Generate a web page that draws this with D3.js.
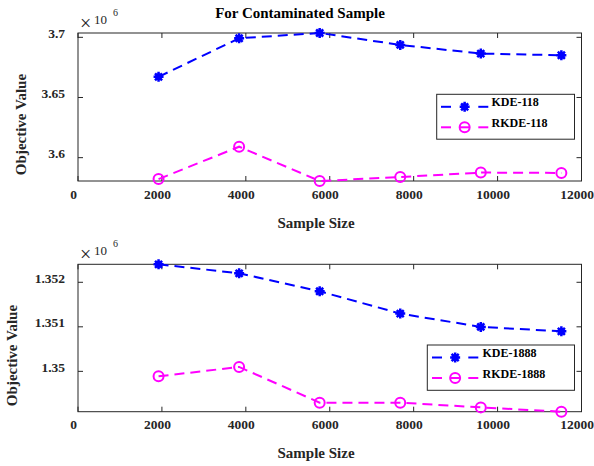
<!DOCTYPE html>
<html>
<head>
<meta charset="utf-8">
<script src="https://cdn.jsdelivr.net/npm/d3@7"></script>
<style>
  body { margin: 0; background: #fff; }
  text { font-family: "Liberation Serif", "Times New Roman", serif; }
</style>
</head>
<body>
<div id="vis"></div>
<script>
const width = 594;
const height = 466;

// sample sizes (x)
const sampleSize = [1920, 3840, 5760, 7680, 9600, 11520];
const xTicks = [0, 2000, 4000, 6000, 8000, 10000, 12000];

// objective values, in units of 10^6
const kde118 = [3.6672, 3.6992, 3.7036, 3.6937, 3.6865, 3.6851];
const rkde118 = [3.5822, 3.6091, 3.5806, 3.5839, 3.5876, 3.5873];
const yTicksTop = [3.6, 3.65, 3.7];

const kde1888 = [1.352404, 1.352202, 1.351798, 1.351297, 1.350998, 1.350899];
const rkde1888 = [1.349888, 1.350099, 1.349297, 1.349297, 1.349191, 1.349094];
const yTicksBottom = [1.35, 1.351, 1.352];

const blue = "#0000ff";
const magenta = "#ff00ff";
const axisColor = "#262626";

window.onload = function () {
  svg = d3.select("#vis").append("svg")
    .attr("width", width)
    .attr("height", height);

  svg.append("text")
    .attr("x", 300).attr("y", 17.5)
    .attr("text-anchor", "middle")
    .style("font-size", "15px").style("font-weight", "bold")
    .text("For Contaminated Sample");

  drawPanel({ top: 33, bottom: 181, ylabX: 20.5, ylabY: 124.5, xlabY: 227.5 },
    kde118, rkde118, yTicksTop,
    ["KDE-118", "RKDE-118"],
    { x0: 436.7, x1: 574.5, y0: 94.3, y1: 139.2, lx0: 441, lx1: 488.3, tx: 491.5 });

  drawPanel({ top: 264.3, bottom: 411.7, ylabX: 12, ylabY: 355.5, xlabY: 457.5 },
    kde1888, rkde1888, yTicksBottom,
    ["KDE-1888", "RKDE-1888"],
    { x0: 427.3, x1: 574.5, y0: 345, y1: 390.3, lx0: 432, lx1: 478.3, tx: 482.5 });
};

function starPath(r) {
  const d = r * Math.SQRT1_2;
  return "M" + (-r) + ",0L" + r + ",0M0," + (-r) + "L0," + r +
    "M" + (-d) + "," + (-d) + "L" + d + "," + d +
    "M" + (-d) + "," + d + "L" + d + "," + (-d);
}

function drawStar(g, x, y) {
  g.append("path")
    .attr("transform", "translate(" + x + "," + y + ")")
    .attr("d", starPath(5))
    .attr("stroke", blue).attr("stroke-width", 2.5).attr("fill", "none");
  g.append("circle")
    .attr("cx", x).attr("cy", y).attr("r", 3.5)
    .attr("fill", blue);
}

function drawCircle(g, x, y) {
  g.append("circle")
    .attr("cx", x).attr("cy", y).attr("r", 5)
    .attr("stroke", magenta).attr("stroke-width", 2).attr("fill", "none");
}

function drawPanel(p, kde, rkde, yTicks, names, leg) {
  const left = 78, right = 581.5;

  let x = d3.scaleLinear().domain([0, 12000]).range([left, right]);
  let y = d3.scaleLinear().domain(d3.extent(kde.concat(rkde))).range([p.bottom, p.top]);

  const g = svg.append("g");

  // box
  g.append("rect")
    .attr("x", left).attr("y", p.top)
    .attr("width", right - left).attr("height", p.bottom - p.top)
    .attr("fill", "none").attr("stroke", axisColor).attr("stroke-width", 1);

  // ticks, inward on all four sides
  xTicks.forEach(function (t) {
    g.append("line").attr("x1", x(t)).attr("x2", x(t))
      .attr("y1", p.bottom).attr("y2", p.bottom - 5).attr("stroke", axisColor);
    g.append("line").attr("x1", x(t)).attr("x2", x(t))
      .attr("y1", p.top).attr("y2", p.top + 5).attr("stroke", axisColor);
    // labels sit a little left of their ticks, as in the original
    g.append("text")
      .attr("x", x(t) - 4.5).attr("y", p.bottom + 17.5)
      .attr("text-anchor", "middle")
      .style("font-size", "13.5px").style("font-weight", "bold").attr("fill", axisColor)
      .text(t);
  });

  yTicks.forEach(function (t) {
    g.append("line").attr("x1", left).attr("x2", left + 5)
      .attr("y1", y(t)).attr("y2", y(t)).attr("stroke", axisColor);
    g.append("line").attr("x1", right).attr("x2", right - 5)
      .attr("y1", y(t)).attr("y2", y(t)).attr("stroke", axisColor);
    g.append("text")
      .attr("x", left - 13).attr("y", y(t))
      .attr("dy", "0.05em")
      .attr("text-anchor", "end")
      .style("font-size", "13.5px").style("font-weight", "bold").attr("fill", axisColor)
      .text(d3.format("~g")(t));
  });

  // exponent label
  g.append("text")
    .attr("x", 80).attr("y", p.top - 3)
    .style("font-size", "20px").attr("fill", axisColor)
    .text("\u00d7");
  g.append("text")
    .attr("x", 94).attr("y", p.top - 9.5)
    .style("font-size", "13px").attr("fill", axisColor)
    .text("10");
  g.append("text")
    .attr("x", 113).attr("y", p.top - 17)
    .style("font-size", "10px").attr("fill", axisColor)
    .text("6");

  // axis labels
  g.append("text")
    .attr("transform", "translate(" + p.ylabX + "," + p.ylabY + ") rotate(-90)")
    .attr("text-anchor", "middle").attr("dy", "0.35em")
    .style("font-size", "15px").style("font-weight", "bold").attr("fill", axisColor)
    .text("Objective Value");
  g.append("text")
    .attr("x", 316).attr("y", p.xlabY)
    .attr("text-anchor", "middle")
    .style("font-size", "15px").style("font-weight", "bold").attr("fill", axisColor)
    .text("Sample Size");

  let line = d3.line()
    .x(function (d, i) { return x(sampleSize[i]); })
    .y(function (d) { return y(d); });

  g.append("path").datum(kde)
    .attr("d", line)
    .attr("fill", "none").attr("stroke", blue)
    .attr("stroke-width", 2).attr("stroke-dasharray", "10,6");
  g.append("path").datum(rkde)
    .attr("d", line)
    .attr("fill", "none").attr("stroke", magenta)
    .attr("stroke-width", 2).attr("stroke-dasharray", "10,6");

  kde.forEach(function (d, i) { drawStar(g, x(sampleSize[i]), y(d)); });
  rkde.forEach(function (d, i) { drawCircle(g, x(sampleSize[i]), y(d)); });

  // legend
  const lg = svg.append("g");
  lg.append("rect")
    .attr("x", leg.x0).attr("y", leg.y0)
    .attr("width", leg.x1 - leg.x0).attr("height", leg.y1 - leg.y0)
    .attr("fill", "#fff").attr("stroke", axisColor).attr("stroke-width", 1);

  const rows = [leg.y0 + 12.5, leg.y0 + 33];
  const colors = [blue, magenta];
  rows.forEach(function (ry, i) {
    const mx = (leg.lx0 + leg.lx1) / 2;
    lg.append("line").attr("x1", leg.lx0).attr("x2", leg.lx0 + 10)
      .attr("y1", ry).attr("y2", ry)
      .attr("stroke", colors[i]).attr("stroke-width", 2);
    lg.append("line").attr("x1", leg.lx1 - 10).attr("x2", leg.lx1)
      .attr("y1", ry).attr("y2", ry)
      .attr("stroke", colors[i]).attr("stroke-width", 2);
    if (i == 0) {
      drawStar(lg, mx, ry);
    } else {
      lg.append("line").attr("x1", mx - 5).attr("x2", mx + 5)
        .attr("y1", ry).attr("y2", ry)
        .attr("stroke", magenta).attr("stroke-width", 2);
      drawCircle(lg, mx, ry);
    }
    lg.append("text")
      .attr("x", leg.tx).attr("y", ry - 0.5)
      .style("font-size", "12px").style("font-weight", "bold").attr("fill", "#000")
      .text(names[i]);
  });
}
</script>
</body>
</html>
